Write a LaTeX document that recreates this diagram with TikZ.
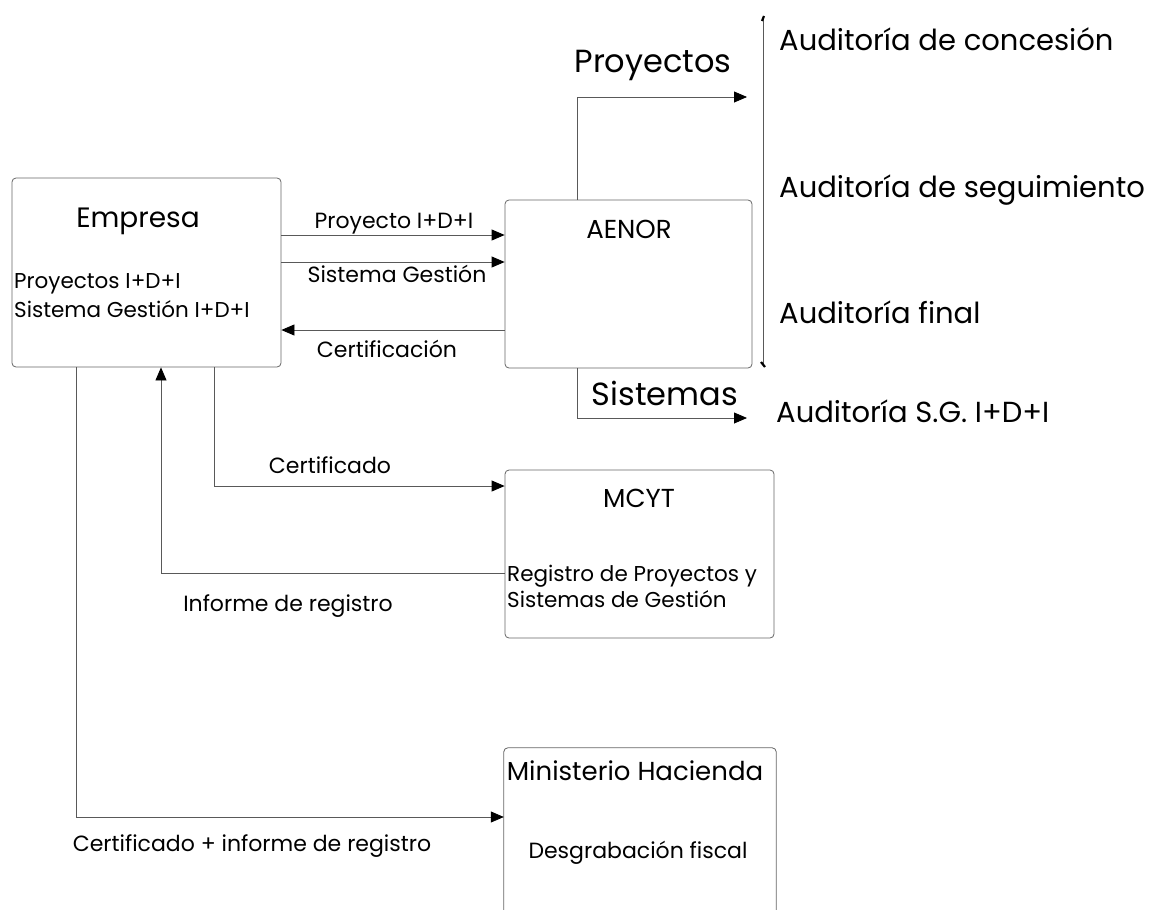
\documentclass[tikz,border=0pt]{standalone}
\usepackage{fontspec}
\setmainfont{Poppins}
\usetikzlibrary{arrows.meta}
\begin{document}
\begin{tikzpicture}[x=1pt,y=-1pt,
 box/.style={draw=black!60, rounded corners=4pt, line width=0.8pt, inner sep=0pt},
 conn/.style={draw=black!65, line width=0.8pt},
 arr/.style={conn, -{Triangle[length=13pt,width=11pt,color=black]}},
 lbl/.style={font=\fontsize{22}{26}\selectfont, inner sep=0pt, anchor=base},
 big/.style={font=\fontsize{29}{33}\selectfont, inner sep=0pt, anchor=base},
 bigger/.style={font=\fontsize{32}{36}\selectfont, inner sep=0pt, anchor=base},
 hdr/.style={font=\fontsize{26}{30}\selectfont, inner sep=0pt, anchor=base},
 body/.style={font=\fontsize{21.5}{25}\selectfont, inner sep=0pt, anchor=base west},
]
\useasboundingbox (0,0) rectangle (1149,910);
% boxes
\node[box, minimum width=269pt, minimum height=189pt] (emp) at (146.5,272.5) {};
\node[box, minimum width=247pt, minimum height=168pt] (aenor) at (628.5,284) {};
\node[box, minimum width=269pt, minimum height=168pt] (mcyt) at (639.5,554) {};
\node[inner sep=0pt, minimum width=272pt, minimum height=162pt] (mh) at (640,829) {};
\draw[draw=black!60, line width=0.8pt, rounded corners=4pt] (mh.south west) -- (mh.north west) -- (mh.north east) -- (mh.south east);
% box texts
\node[hdr, font=\fontsize{28}{32}\selectfont] (tEmp) at (138,227) {Empresa};
\node[body] (tEmp1) at (14,288) {Proyectos I+D+I};
\node[body] (tEmp2) at (14,317) {Sistema Gestión I+D+I};
\node[hdr] (tAen) at (629,238) {AENOR};
\node[hdr] (tMcyt) at (639,507) {MCYT};
\node[body] (tMcyt1) at (507,581) {Registro de Proyectos y};
\node[body] (tMcyt2) at (507,607) {Sistemas de Gestión};
\node[hdr] (tMh) at (635,780) {Ministerio Hacienda};
\node[lbl] (tMh1) at (638,858) {Desgrabación fiscal};
% connectors Empresa <-> AENOR
\draw[arr] (emp.east |- 0,235) -- (aenor.west |- 0,235);
\node[lbl] (lP) at (394,228) {Proyecto I+D+I};
\draw[arr] (emp.east |- 0,262) -- (aenor.west |- 0,262);
\node[lbl] (lS) at (397,282) {Sistema Gestión};
\draw[arr] (aenor.west |- 0,330) -- (emp.east |- 0,330);
\node[lbl] (lC) at (387,357) {Certificación};
% AENOR outputs
\coordinate (pEnd) at (747,97);
\coordinate (sEnd) at (747,418);
\draw[arr] (aenor.north -| 577,0) |- (pEnd);
\draw[arr] (aenor.south -| 577,0) |- (sEnd);
\node[bigger] (lProy) at (653,72) {Proyectos};
\node[bigger] (lSist) at (665,405) {Sistemas};
% bracket
\coordinate (bt) at (763,19);
\coordinate (bb) at (763,364);
\draw[conn] (bt) -- (bb);
\draw[line width=2.2pt] (762,21) -- (764,16);
\draw[line width=2.2pt] (761,362) -- (765,367);
\node[big, anchor=base west] (a1) at (779,50) {Auditoría de concesión};
\node[big, anchor=base west] (a2) at (779,197) {Auditoría de seguimiento};
\node[big, anchor=base west] (a3) at (779,323) {Auditoría final};
\node[big, anchor=base west] (a4) at (776,422) {Auditoría S.G. I+D+I};
% Empresa -> MCYT
\draw[arr] (emp.south -| 214,0) |- (mcyt.west |- 0,486);
\node[lbl] (lCert) at (330,473) {Certificado};
% MCYT -> Empresa
\draw[arr] (mcyt.west |- 0,573) -| (emp.south -| 161,0);
\node[lbl] (lInf) at (288,611) {Informe de registro};
% Empresa -> Ministerio
\draw[arr] (emp.south -| 76,0) |- (mh.west |- 0,817);
\node[lbl] (lCI) at (252,851) {Certificado + informe de registro};
\end{tikzpicture}
\end{document}
